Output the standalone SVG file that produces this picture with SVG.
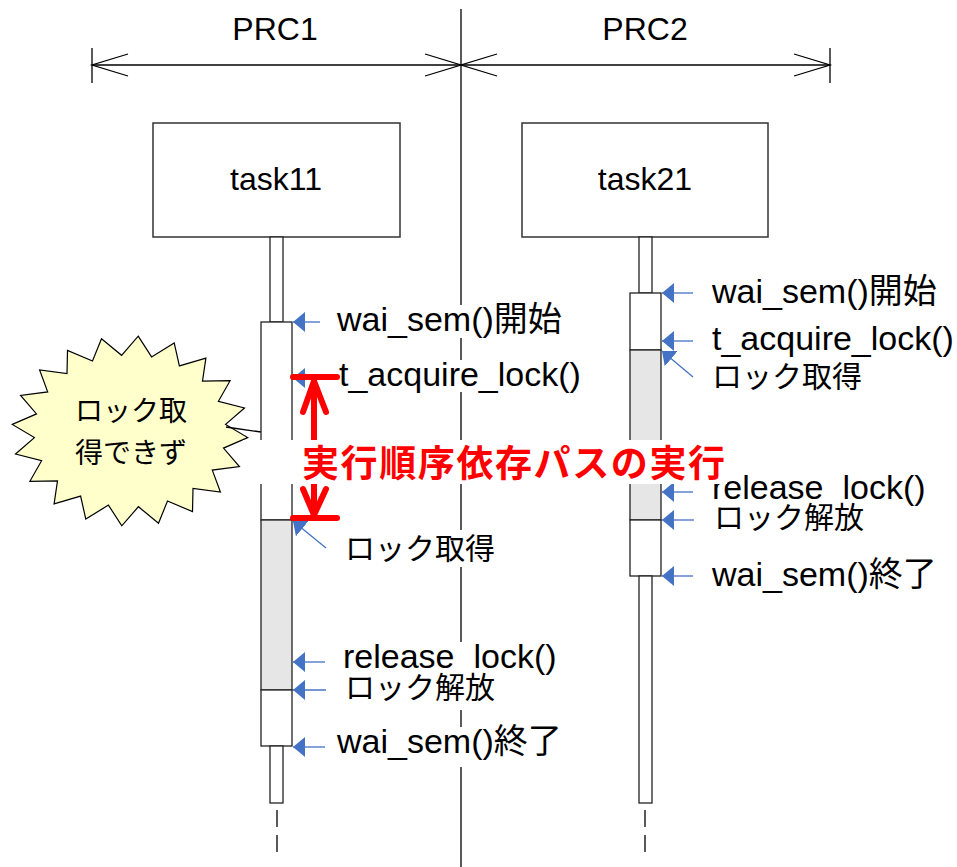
<svg xmlns="http://www.w3.org/2000/svg" width="957" height="867" viewBox="0 0 957 867">
<style>
.t{font-family:"Liberation Sans","Noto Sans CJK JP",sans-serif;fill:#000}
.lbl{font-size:34px}
.jp{font-size:30px}
.ln{stroke:#000;stroke-width:1.3;fill:none}
.box{fill:#fff;stroke:#333;stroke-width:1.5}
.life{fill:#fff;stroke:#222;stroke-width:1.3}
.act{fill:#fff;stroke:#222;stroke-width:1.3}
.gray{fill:#e6e6e6;stroke:#222;stroke-width:1.3}
.ba{stroke:#4472c4;stroke-width:1.3;fill:none;marker-end:url(#bh)}
.red{stroke:#ff0000;stroke-width:6;fill:none;stroke-linecap:round;stroke-linejoin:round}
.bg{fill:#fff}
.dash{stroke:#000;stroke-width:1.3}
</style>
<defs>
<marker id="bh" viewBox="0 0 12 20" refX="12" refY="10" markerWidth="12" markerHeight="20" markerUnits="userSpaceOnUse" orient="auto">
<path d="M0,0 L12,10 L0,20 z" fill="#4472c4"/>
</marker>
</defs>
<rect width="957" height="867" fill="#fff"/>

<g id="dimensions">
<line class="ln" x1="461" y1="9" x2="461" y2="867"/>
<line class="ln" x1="92" y1="48" x2="92" y2="83"/>
<line class="ln" x1="830" y1="48" x2="830" y2="83"/>
<line class="ln" x1="92" y1="65" x2="830" y2="65"/>
<path class="ln" d="M128,54 L92,65 L128,76 M425,54 L461,65 L425,76 M497,54 L461,65 L497,76 M794,54 L830,65 L794,76"/>
<text class="t" x="275" y="40" font-size="32" text-anchor="middle">PRC1</text>
<text class="t" x="645" y="40" font-size="32" text-anchor="middle">PRC2</text>
</g>

<g id="callout">
<polygon fill="#ffffcc" stroke="#000" stroke-width="1.2" points="138.2,336.2 151.6,356.9 174.2,342.9 179.4,365.9 205.9,358.2 202.5,381.1 230.1,380.7 218.4,401.3 244.5,408 225.6,424.4 247.7,437.6 223.5,448.1 239.4,466.6 212.3,470.1 220.4,492.1 193,488.4 192.5,511.6 167.5,501 158.5,523.2 138.4,506.7 121.8,525.8 108.4,505.1 85.8,519.1 80.6,496.1 54.1,503.8 57.5,480.9 29.9,481.3 41.6,460.7 15.5,454 34.4,437.6 12.3,424.4 36.5,413.9 20.6,395.4 47.7,391.9 39.6,369.9 67,373.6 67.5,350.4 92.5,361 101.5,338.8 121.6,355.3"/>
<line class="ln" x1="226" y1="427" x2="261" y2="432"/>
<text class="t" x="131" y="421" font-size="28" text-anchor="middle">ロック取</text>
<text class="t" x="131" y="463" font-size="28" text-anchor="middle">得できず</text>
</g>

<g id="task11">
<rect class="box" x="153" y="123" width="247" height="114"/>
<text class="t" x="276" y="190" font-size="32" text-anchor="middle">task11</text>
<rect class="life" x="270" y="237" width="13" height="85"/>
<rect class="act" x="261" y="322" width="31" height="198"/>
<rect class="gray" x="261" y="520" width="31" height="170"/>
<rect class="act" x="261" y="690" width="31" height="56"/>
<rect class="life" x="270" y="746" width="13" height="57"/>
<line class="dash" x1="277" y1="810" x2="277" y2="827"/>
<line class="dash" x1="277" y1="835" x2="277" y2="852"/>
</g>

<g id="task21">
<rect class="box" x="522" y="123" width="246" height="114"/>
<text class="t" x="645" y="190" font-size="32" text-anchor="middle">task21</text>
<rect class="life" x="639" y="237" width="13" height="56"/>
<rect class="act" x="630" y="293" width="31" height="57"/>
<rect class="gray" x="630" y="350" width="31" height="170"/>
<rect class="act" x="630" y="520" width="31" height="56"/>
<rect class="life" x="639" y="576" width="13" height="227"/>
<line class="dash" x1="645" y1="810" x2="645" y2="827"/>
<line class="dash" x1="645" y1="835" x2="645" y2="852"/>
</g>

<g id="connectors">
<line class="ba" x1="320" y1="322" x2="293" y2="322"/>
<line class="ba" x1="320" y1="378" x2="293" y2="378"/>
<line class="ba" x1="326" y1="548" x2="293" y2="521"/>
<line class="ba" x1="325" y1="662" x2="293" y2="662"/>
<line class="ba" x1="326" y1="690" x2="293" y2="690"/>
<line class="ba" x1="325" y1="747" x2="293" y2="747"/>
<line class="ba" x1="693" y1="293" x2="662" y2="293"/>
<line class="ba" x1="693" y1="341" x2="662" y2="341"/>
<line class="ba" x1="693" y1="377" x2="662" y2="351"/>
<line class="ba" x1="693" y1="492" x2="662" y2="492"/>
<line class="ba" x1="694" y1="520" x2="662" y2="520"/>
<line class="ba" x1="693" y1="576" x2="662" y2="576"/>
</g>

<g id="labels11">
<rect class="bg" x="335" y="305" width="232" height="33"/>
<text class="t lbl" x="337" y="331">wai_sem()開始</text>
<rect class="bg" x="337" y="360" width="250" height="32"/>
<text class="t lbl" x="339" y="386">t_acquire_lock()</text>
<rect class="bg" x="342" y="530" width="156" height="37"/>
<text class="t jp" x="345" y="559">ロック取得</text>
<rect class="bg" x="341" y="642" width="220" height="32"/>
<text class="t lbl" x="343" y="668">release_lock()</text>
<rect class="bg" x="342" y="673" width="156" height="37"/>
<text class="t jp" x="345" y="698">ロック解放</text>
<rect class="bg" x="335" y="727" width="226" height="40"/>
<text class="t lbl" x="337" y="753">wai_sem()終了</text>
</g>

<g id="labels21">
<rect class="bg" x="710" y="277" width="232" height="33"/>
<text class="t lbl" x="712" y="303">wai_sem()開始</text>
<rect class="bg" x="710" y="323" width="247" height="33"/>
<text class="t lbl" x="712" y="350">t_acquire_lock()</text>
<rect class="bg" x="710" y="358" width="156" height="37"/>
<text class="t jp" x="712" y="387">ロック取得</text>
<rect class="bg" x="710" y="474" width="220" height="30"/>
<text class="t lbl" x="712" y="499">release_lock()</text>
<rect class="bg" x="710" y="503" width="156" height="35"/>
<text class="t jp" x="714" y="528">ロック解放</text>
<rect class="bg" x="710" y="560" width="232" height="36"/>
<text class="t lbl" x="712" y="586">wai_sem()終了</text>
</g>

<g id="red-path">
<line class="red" x1="314" y1="381" x2="314" y2="515"/>
<line class="red" x1="293" y1="377" x2="337" y2="377"/>
<line class="red" x1="293" y1="518" x2="337" y2="518"/>
<polyline class="red" points="303,412 314,381 326,412"/>
<polyline class="red" points="303,489 314,515 326,489"/>
<rect class="bg" x="243" y="440" width="484" height="44"/>
<text x="302" y="477" font-family="'Noto Sans CJK JP',sans-serif" font-weight="bold" font-size="37" fill="#ff0000" textLength="423" lengthAdjust="spacing">実行順序依存パスの実行</text>
</g>
</svg>
